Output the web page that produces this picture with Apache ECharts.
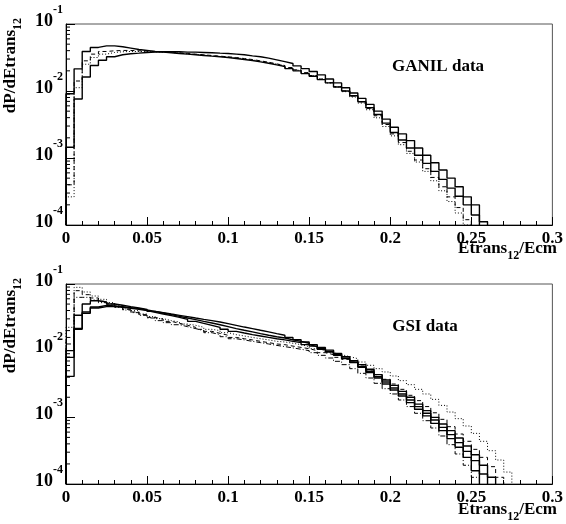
<!DOCTYPE html>
<html>
<head>
<meta charset="utf-8">
<script src="https://cdn.jsdelivr.net/npm/echarts@6/dist/echarts.min.js"></script>
<style>html,body{margin:0;padding:0;background:#fff;}#c{width:566px;height:524px;}</style>
</head>
<body>
<div id="c"></div>
<script>
// ---- data (bin width 0.005, bins start at 0) ----
const binWidth = 0.005;
const xTicks = [0, 0.05, 0.1, 0.15, 0.2, 0.25, 0.3];
const yTickExponents = [-4, -3, -2, -1];

// GANIL panel
const ganilSolidA = [0.00912,0.0214,0.0389,0.0447,0.0472,0.0472,0.0457,0.0437,0.0417,0.0403,0.0389,0.0380,0.0372,0.0363,0.0355,0.0347,0.0339,0.0331,0.0324,0.0316,0.0305,0.0295,0.0285,0.0272,0.0260,0.0245,0.0232,0.0216,0.0200,0.0182,0.0166,0.0148,0.0132,0.0115,0.0100,0.00851,0.00692,0.00562,0.00447,0.00331,0.00240,0.00186,0.00141,0.00110,0.000832,0.000631,0.000479,0.000355,0.000269,0.000200,0.000141];
const ganilSolidB = [0.00145,0.00759,0.0162,0.0240,0.0288,0.0324,0.0347,0.0359,0.0367,0.0376,0.0380,0.0385,0.0385,0.0385,0.0380,0.0380,0.0376,0.0372,0.0367,0.0363,0.0355,0.0347,0.0335,0.0324,0.0309,0.0292,0.0275,0.0257,0.0237,0.0216,0.0195,0.0174,0.0151,0.0132,0.0112,0.00933,0.00776,0.00631,0.00501,0.00380,0.00288,0.00229,0.00182,0.00141,0.00110,0.000851,0.000661,0.000501,0.000372,0.000263,0.000200,0.000112];
const ganilDashed = [0.000398,0.0141,0.0282,0.0355,0.0389,0.0398,0.0403,0.0403,0.0398,0.0394,0.0389,0.0385,0.0380,0.0372,0.0363,0.0355,0.0347,0.0339,0.0331,0.0324,0.0316,0.0305,0.0295,0.0282,0.0269,0.0254,0.0240,0.0224,0.0207,0.0188,0.0170,0.0151,0.0133,0.0116,0.0100,0.00841,0.00692,0.00550,0.00427,0.00316,0.00229,0.00170,0.00126,0.000933,0.000692,0.000513,0.000372,0.000263,0.000182,0.000120];
const ganilDotted = [0.000263,0.0112,0.0251,0.0316,0.0355,0.0376,0.0385,0.0389,0.0389,0.0389,0.0385,0.0380,0.0376,0.0367,0.0359,0.0351,0.0343,0.0335,0.0327,0.0320,0.0313,0.0302,0.0292,0.0279,0.0266,0.0251,0.0237,0.0221,0.0204,0.0186,0.0168,0.0150,0.0132,0.0115,0.00977,0.00813,0.00661,0.00525,0.00398,0.00295,0.00214,0.00158,0.00117,0.000871,0.000631,0.000457,0.000324,0.000224,0.000151,0.000100];

// GSI panel
const gsiSolidA = [0.00794,0.0339,0.0501,0.0562,0.0537,0.0501,0.0479,0.0457,0.0437,0.0417,0.0389,0.0372,0.0355,0.0339,0.0324,0.0309,0.0295,0.0282,0.0269,0.0254,0.0240,0.0226,0.0214,0.0202,0.0191,0.0180,0.0170,0.0158,0.0146,0.0135,0.0123,0.0112,0.0102,0.00912,0.00813,0.00708,0.00617,0.00525,0.00437,0.00363,0.00302,0.00245,0.00200,0.00158,0.00126,0.00100,0.000794,0.000631,0.000490,0.000372,0.000275,0.000191,0.000126];
const gsiSolidB = [0.0100,0.0216,0.0380,0.0452,0.0479,0.0468,0.0457,0.0442,0.0427,0.0407,0.0389,0.0367,0.0347,0.0327,0.0309,0.0292,0.0275,0.0260,0.0245,0.0229,0.0214,0.0202,0.0191,0.0180,0.0170,0.0162,0.0155,0.0146,0.0138,0.0129,0.0117,0.0107,0.00977,0.00871,0.00776,0.00676,0.00575,0.00490,0.00407,0.00339,0.00275,0.00224,0.00182,0.00145,0.00115,0.000912,0.000708,0.000550,0.000417,0.000309,0.000224,0.000141];
const gsiSolidC = [0.00411,0.0209,0.0363,0.0437,0.0457,0.0457,0.0447,0.0432,0.0417,0.0398,0.0376,0.0355,0.0335,0.0316,0.0295,0.0275,0.0257,0.0240,0.0224,0.0209,0.0195,0.0184,0.0174,0.0166,0.0158,0.0151,0.0145,0.0138,0.0132,0.0123,0.0115,0.0105,0.00955,0.00851,0.00759,0.00661,0.00562,0.00468,0.00389,0.00316,0.00257,0.00209,0.00166,0.00132,0.00105,0.000813,0.000631,0.000479,0.000355,0.000251,0.000158];
const gsiDotted = [0.0224,0.0891,0.0759,0.0661,0.0589,0.0525,0.0479,0.0437,0.0398,0.0355,0.0324,0.0302,0.0282,0.0269,0.0251,0.0240,0.0224,0.0209,0.0200,0.0186,0.0174,0.0166,0.0158,0.0151,0.0145,0.0138,0.0135,0.0129,0.0123,0.0115,0.0107,0.0100,0.00933,0.00871,0.00813,0.00759,0.00676,0.00603,0.00537,0.00479,0.00417,0.00355,0.00309,0.00263,0.00224,0.00186,0.00151,0.00120,0.000955,0.000741,0.000575,0.000437,0.000316,0.000229,0.000151];
const gsiDashed = [0.0158,0.0794,0.0692,0.0617,0.0550,0.0501,0.0457,0.0417,0.0380,0.0347,0.0316,0.0295,0.0275,0.0257,0.0240,0.0224,0.0209,0.0195,0.0182,0.0170,0.0158,0.0151,0.0145,0.0138,0.0132,0.0126,0.0123,0.0117,0.0112,0.0107,0.0100,0.00933,0.00871,0.00794,0.00741,0.00676,0.00589,0.00513,0.00437,0.00372,0.00316,0.00263,0.00214,0.00178,0.00145,0.00117,0.000933,0.000724,0.000562,0.000437,0.000331,0.000251,0.000182,0.000126];
const gsiDashDot = [0.0126,0.0631,0.0631,0.0575,0.0525,0.0490,0.0447,0.0407,0.0372,0.0339,0.0309,0.0282,0.0263,0.0245,0.0229,0.0214,0.0200,0.0186,0.0174,0.0162,0.0151,0.0145,0.0138,0.0132,0.0126,0.0120,0.0115,0.0110,0.0105,0.0100,0.00933,0.00851,0.00776,0.00692,0.00617,0.00537,0.00457,0.00389,0.00324,0.00269,0.00224,0.00182,0.00145,0.00115,0.000891,0.000692,0.000525,0.000389,0.000282,0.000191,0.000126];

const panelLabels = ['GANIL data', 'GSI data'];
const xTitle = ['Etrans', '12', '/Ecm'];
const yTitle = ['dP/dEtrans', '12'];

// ---- build ----
const Y_MIN = 1e-4, Y_MAX = 1e-1;
function hist(vals) {
  const pts = [[0, Y_MIN]];
  vals.forEach((v, i) => pts.push([+(i * binWidth).toFixed(4), v]));
  const end = +(vals.length * binWidth).toFixed(4);
  pts.push([end, vals[vals.length - 1]]);
  pts.push([end, Y_MIN]);
  return pts;
}
const minorVals = [];
for (let e = -4; e < -1; e++) for (let m = 2; m <= 9; m++) minorVals.push([0, m * Math.pow(10, e)]);

const FONT = 'Liberation Serif';
const grids = [
  { left: 66, top: 24, width: 490, height: 201 },
  { left: 66, top: 284, width: 490, height: 200 }
];

function xAxis(i) {
  return {
    gridIndex: i, type: 'value', min: 0, max: 0.3, interval: 0.05,
    axisLine: { lineStyle: { color: '#000', width: 1 } },
    axisTick: { inside: true, length: 8, lineStyle: { color: '#000' } },
    minorTick: { show: true, splitNumber: 5, length: 4, lineStyle: { color: '#000' } },
    splitLine: { show: false },
    axisLabel: { color: '#000', fontFamily: FONT, fontWeight: 'bold', fontSize: 17, margin: 5,
      formatter: v => String(+v.toFixed(2)) }
  };
}
function yAxis(i) {
  return {
    gridIndex: i, type: 'log', logBase: 10, min: Y_MIN, max: Y_MAX,
    axisLine: { lineStyle: { color: '#000', width: 1 } },
    axisTick: { inside: true, length: 9, lineStyle: { color: '#000' } },
    splitLine: { show: false },
    axisLabel: {
      margin: 3, verticalAlign: 'middle', padding: [0, 0, 14, 0],
      formatter: v => '{b|10}{s|' + Math.round(Math.log10(v)) + '}',
      rich: {
        b: { fontFamily: FONT, fontWeight: 'bold', fontSize: 18, color: '#000', lineHeight: 26, verticalAlign: 'bottom' },
        s: { fontFamily: FONT, fontWeight: 'bold', fontSize: 12, color: '#000', lineHeight: 26, verticalAlign: 'top' }
      }
    }
  };
}
function line(i, vals, type, width) {
  return {
    type: 'line', xAxisIndex: i, yAxisIndex: i, data: hist(vals), step: 'end',
    showSymbol: false, symbol: 'none', silent: true, animation: false,
    lineStyle: { color: '#000', width: width, type: type }
  };
}
function minorTicks(i) {
  return {
    type: 'custom', xAxisIndex: i, yAxisIndex: i, data: minorVals, silent: true, animation: false,
    renderItem: (params, api) => {
      const p = api.coord([api.value(0), api.value(1)]);
      return { type: 'line', shape: { x1: p[0], y1: p[1], x2: p[0] + 4, y2: p[1] }, style: { stroke: '#000', lineWidth: 1 } };
    }
  };
}

const richTitle = {
  a: { fontFamily: FONT, fontWeight: 'bold', fontSize: 17, color: '#000', lineHeight: 17, verticalAlign: 'top' },
  sub: { fontFamily: FONT, fontWeight: 'bold', fontSize: 12, color: '#000', lineHeight: 22, verticalAlign: 'bottom' }
};

const graphics = [];
[[438, 67], [425, 327]].forEach((p, i) => {
  graphics.push({ type: 'text', x: p[0], y: p[1], style: { text: panelLabels[i], fontFamily: FONT, fontWeight: 'bold', fontSize: 17, fill: '#000', align: 'center', verticalAlign: 'middle' } });
});
[[557, 251], [557, 512]].forEach(p => {
  graphics.push({ type: 'text', x: p[0], y: p[1], style: { text: '{a|' + xTitle[0] + '}{sub|' + xTitle[1] + '}{a|' + xTitle[2] + '}', rich: richTitle, align: 'right', verticalAlign: 'middle' } });
});
[[13, 18], [13, 278]].forEach(p => {
  graphics.push({ type: 'text', x: p[0], y: p[1], rotation: Math.PI / 2, style: { text: '{a|' + yTitle[0] + '}{sub|' + yTitle[1] + '}', rich: richTitle, align: 'right', verticalAlign: 'middle' } });
});

const option = {
  animation: false,
  backgroundColor: '#fff',
  grid: grids.map(g => Object.assign({ show: true, borderColor: '#555', borderWidth: 1, backgroundColor: 'transparent' }, g)),
  xAxis: [xAxis(0), xAxis(1)],
  yAxis: [yAxis(0), yAxis(1)],
  series: [
    line(0, ganilSolidA, 'solid', 1.4),
    line(0, ganilSolidB, 'solid', 1.4),
    line(0, ganilDashed, [4, 3], 1),
    line(0, ganilDotted, [1, 2], 1),
    minorTicks(0),
    line(1, gsiSolidA, 'solid', 1.4),
    line(1, gsiSolidB, 'solid', 1.4),
    line(1, gsiSolidC, 'solid', 1.4),
    line(1, gsiDotted, [1, 2], 1),
    line(1, gsiDashed, [4, 3], 1),
    line(1, gsiDashDot, [5, 2, 1, 2], 1),
    minorTicks(1)
  ],
  graphic: graphics
};
const chart = echarts.init(document.getElementById('c'), null, { renderer: 'canvas' });
chart.setOption(option);
</script>
</body>
</html>
